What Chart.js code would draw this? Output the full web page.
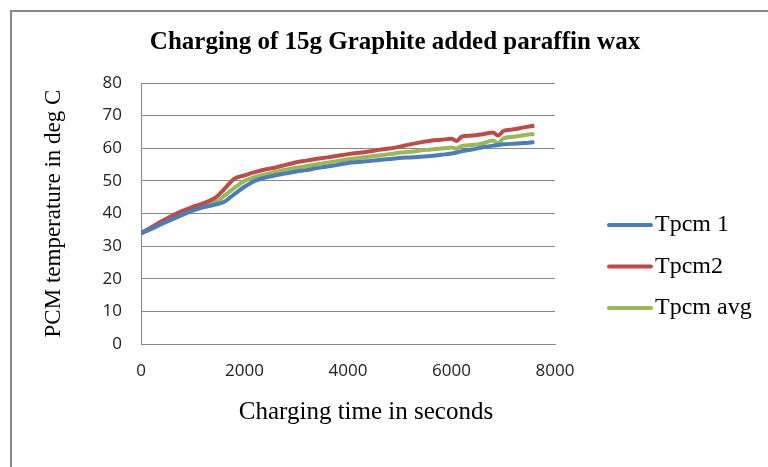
<!DOCTYPE html>
<html>
<head>
<meta charset="utf-8">
<title>Charging of 15g Graphite added paraffin wax</title>
<script src="https://cdn.jsdelivr.net/npm/chart.js@4/dist/chart.umd.min.js"></script>
<style>
  html, body { margin: 0; padding: 0; background: #fff; overflow: hidden; }
  .frame {
    position: absolute; left: 10px; top: 10px;
    width: 800px; height: 500px;
    border-left: 2px solid #888; border-top: 2px solid #888;
  }
  canvas { position: absolute; left: 0; top: 0; }
</style>
</head>
<body>
<div class="frame"></div>
<canvas id="chargingChart" width="768" height="467"></canvas>
<script>
const chartTitle = 'Charging of 15g Graphite added paraffin wax';
const xTitle = 'Charging time in seconds';
const yTitle = 'PCM temperature in deg C';

// time in seconds
const times = [
    0, 200, 400, 600, 800, 1000, 1200, 1400, 1500, 1600, 1800, 2000,
    2200, 2400, 2600, 2800, 3000, 3200, 3400, 3600, 3800, 4000, 4200,
    4400, 4600, 4800, 5000, 5200, 5400, 5600, 5800, 6000, 6100, 6200,
    6400, 6600, 6800, 6900, 7000, 7200, 7400, 7600
];

// temperatures in deg C
const tpcm1 = [
    33.9, 35.3, 36.8, 38.2, 39.6, 40.9, 41.9, 42.6, 43.0, 43.5, 45.9, 48.2,
    50.0, 51.0, 51.7, 52.3, 52.9, 53.3, 53.9, 54.4, 54.9, 55.5, 55.8,
    56.1, 56.4, 56.7, 57.0, 57.2, 57.4, 57.6, 58.0, 58.4, 58.7, 59.1,
    59.6, 60.3, 60.8, 61.0, 61.2, 61.4, 61.6, 61.9
];
const tpcm2 = [
    34.0, 35.8, 37.6, 39.3, 40.8, 42.0, 43.1, 44.5, 45.7, 47.3, 50.6, 51.7,
    52.7, 53.5, 54.1, 54.9, 55.7, 56.2, 56.8, 57.2, 57.7, 58.2, 58.6,
    59.0, 59.5, 59.9, 60.5, 61.2, 61.8, 62.3, 62.6, 62.9, 62.2, 63.6,
    63.9, 64.3, 64.8, 63.9, 65.3, 65.8, 66.4, 66.9
];
const tpcmAvg = [
    34.0, 35.5, 37.2, 38.8, 40.3, 41.4, 42.3, 43.3, 44.0, 45.3, 47.8, 50.0,
    51.2, 52.0, 52.7, 53.4, 54.0, 54.5, 55.1, 55.6, 56.1, 56.6, 57.0,
    57.4, 57.8, 58.2, 58.6, 58.9, 59.3, 59.6, 59.9, 60.2, 59.9, 60.7,
    61.0, 61.5, 62.4, 61.6, 63.0, 63.5, 64.0, 64.4
];

const seriesNames = ['Tpcm 1', 'Tpcm2', 'Tpcm avg'];
const seriesColors = ['#4A7EBB', '#BE4B48', '#98B954'];
const xTicks = [0, 2000, 4000, 6000, 8000];
const yTicks = [0, 10, 20, 30, 40, 50, 60, 70, 80];

function toPoints(values) {
    return times.map((t, i) => ({ x: t, y: values[i] }));
}

// chart title, x title and the legend on the right are painted here
const sideText = {
    id: 'sideText',
    afterDraw(chart) {
        const { ctx, chartArea } = chart;
        ctx.save();
        ctx.fillStyle = '#000';
        ctx.textBaseline = 'middle';

        ctx.textAlign = 'center';
        ctx.font = 'bold 25px "Liberation Serif"';
        ctx.fillText(chartTitle, 395, 43);

        ctx.font = '25px "Liberation Serif"';
        ctx.fillText(xTitle, (chartArea.left + chartArea.right) / 2 + 18, 412);

        ctx.textAlign = 'left';
        ctx.font = '24px "Liberation Serif"';
        chart.data.datasets.forEach((ds, i) => {
            const y = 225 + i * 41.5;
            ctx.strokeStyle = ds.borderColor;
            ctx.lineWidth = 4;
            ctx.lineCap = 'round';
            ctx.beginPath();
            ctx.moveTo(609, y);
            ctx.lineTo(651, y);
            ctx.stroke();
            ctx.fillText(ds.label, 655, y);
        });
        ctx.restore();
    }
};

const datasets = [tpcm1, tpcm2, tpcmAvg].map((values, i) => ({
    label: seriesNames[i],
    data: toPoints(values),
    borderColor: seriesColors[i],
    backgroundColor: seriesColors[i],
    borderWidth: 4,
    pointRadius: 0,
    cubicInterpolationMode: 'monotone',
    fill: false
}));

const tickFont = { family: '"Open Sans"', size: 17 };

new Chart(document.getElementById('chargingChart'), {
    type: 'line',
    data: { datasets },
    options: {
        responsive: false,
        animation: false,
        layout: {
            padding: { top: 83, right: 213, bottom: 0, left: 0 }
        },
        plugins: {
            legend: { display: false },
            title: { display: false },
            tooltip: { enabled: false }
        },
        scales: {
            x: {
                type: 'linear',
                min: 0,
                max: 8000,
                afterBuildTicks: scale => { scale.ticks = xTicks.map(v => ({ value: v })); },
                afterFit: scale => { scale.height = 123; },
                grid: { display: false, drawTicks: false },
                border: { display: true, color: '#888', width: 1 },
                ticks: {
                    font: tickFont, color: '#222', padding: 17, maxRotation: 0,
                    callback: v => String(v)
                }
            },
            y: {
                min: 0,
                max: 80,
                afterBuildTicks: scale => { scale.ticks = yTicks.map(v => ({ value: v })); },
                afterFit: scale => { scale.width = 141; },
                grid: { color: '#888', lineWidth: 1, drawTicks: false },
                border: { display: true, color: '#888', width: 1 },
                ticks: { font: tickFont, color: '#222', padding: 19 },
                title: {
                    display: true,
                    text: yTitle,
                    color: '#000',
                    font: { family: '"Liberation Serif"', size: 23 },
                    padding: { top: 40, bottom: 0 }
                }
            }
        }
    },
    plugins: [sideText]
});
</script>
</body>
</html>
